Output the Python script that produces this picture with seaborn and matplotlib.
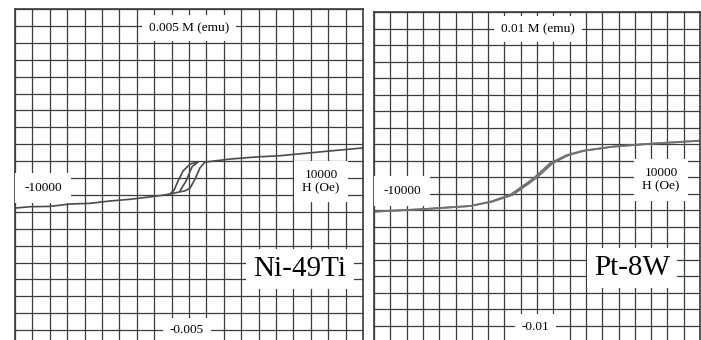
import numpy as np
import pandas as pd
import matplotlib
matplotlib.use("Agg")
import matplotlib.pyplot as plt
import seaborn as sns

# Ni-49Ti loop (H in Oe, M in emu)
ni_up_H = [-10000, -9140, -7990, -6840, -5690, -4540, -3390, -2240, -1380, -800, -230, 60, 345, 630, 860,
           920, 2360, 3790, 5230, 6670, 8100, 10000]
ni_up_M = [-0.00089, -0.00085, -0.00084, -0.00077, -0.00075, -0.00068, -0.00063, -0.00056, -0.00050, -0.00044,
           -0.00038, -0.00030, -0.00003, 0.00030, 0.00044,
           0.00047, 0.00056, 0.00062, 0.00066, 0.00073, 0.00080, 0.00089]
ni_down_H = [460, 60, -340, -630, -860, -1090]
ni_down_M = [0.00047, 0.00041, 0.00021, -0.00009, -0.00036, -0.00047]
ni_mid_H = [-520, -170, 170, 520]
ni_mid_M = [-0.00038, -0.00009, 0.00033, 0.00047]

# Pt-8W loop, two nearly overlapping branches
pt_up_H = [-10000, -7180, -4110, -2880, -1660, -630, -120, 800, 1820, 2820, 4660, 6730, 10000]
pt_up_M = [-0.00210, -0.00196, -0.00176, -0.00150, -0.00109, -0.00038, 0.0, 0.00083, 0.00133, 0.00159,
           0.00184, 0.00200, 0.00220]
pt_down_H = [10000, 6730, 4660, 2900, 1950, 950, 30, -480, -1500, -2750, -4110, -7180, -10000]
pt_down_M = [0.00220, 0.00200, 0.00184, 0.00159, 0.00133, 0.00083, 0.0, -0.00038, -0.00109, -0.00150,
             -0.00176, -0.00196, -0.00210]

sns.set_style("white")
plt.rcParams['font.family'] = ['Liberation Serif', 'DejaVu Serif']

fig = plt.figure(figsize=(7.01, 3.40), dpi=100)
ax1 = fig.add_axes([15 / 701, 1 - 347 / 340, 348 / 701, 338 / 340])
ax2 = fig.add_axes([374 / 701, 1 - 342 / 340, 326 / 701, 330 / 340])

grid_col = '#3c3c3c'


def paper(ax, mstep, mmax):
    ax.set_xlim(-10000, 10000)
    ax.set_ylim(-mmax, mmax)
    ax.set_xticks(np.arange(-10000, 10001, 1000))
    ax.set_yticks(np.arange(-mmax, mmax + mstep / 2, mstep))
    ax.grid(True, color=grid_col, lw=0.9)
    ax.set_axisbelow(True)
    ax.tick_params(length=0, labelbottom=False, labelleft=False)
    for s in ax.spines.values():
        s.set_color(grid_col)
        s.set_linewidth(1.2)
    ax.set_xlabel('')
    ax.set_ylabel('')


def label(ax, x, y, s, size=9.5, pad=0.35):
    ax.text(x, y, s, ha='center', va='center', fontsize=size, color='black', zorder=10,
            linespacing=1.15,
            bbox=dict(boxstyle='square,pad=%s' % pad, fc='white', ec='none'))


# left panel
for h, m in [(ni_up_H, ni_up_M), (ni_down_H, ni_down_M), (ni_mid_H, ni_mid_M)]:
    d = pd.DataFrame({'H': h, 'M': m})
    sns.lineplot(data=d, x='H', y='M', sort=False, ax=ax1, color='#4a4a4a', lw=1.2)
paper(ax1, 0.0005, 0.005)
label(ax1, 0, 0.00444, '0.005 M (emu)', pad=0.5)
label(ax1, -8390, -0.0003, '-10000', pad=0.7)
label(ax1, 7590, -0.0001, '10000\nH (Oe)', pad=0.6)
label(ax1, -115, -0.0045, '-0.005', pad=0.5)
label(ax1, 6380, -0.00269, 'Ni-49Ti', size=21, pad=0.25)

# right panel
for h, m in [(pt_up_H, pt_up_M), (pt_down_H, pt_down_M)]:
    d = pd.DataFrame({'H': h, 'M': m})
    sns.lineplot(data=d, x='H', y='M', sort=False, ax=ax2, color='#707070', lw=1.3)
paper(ax2, 0.001, 0.01)
label(ax2, 60, 0.00897, '0.01 M (emu)', pad=0.5)
label(ax2, -8280, -0.00085, '-10000', pad=0.7)
label(ax2, 7610, -0.00018, '10000\nH (Oe)', pad=0.6)
label(ax2, -120, -0.00909, '-0.01', pad=0.5)
label(ax2, 5830, -0.00552, 'Pt-8W', size=21, pad=0.25)

fig.savefig('out.png', dpi=100)
